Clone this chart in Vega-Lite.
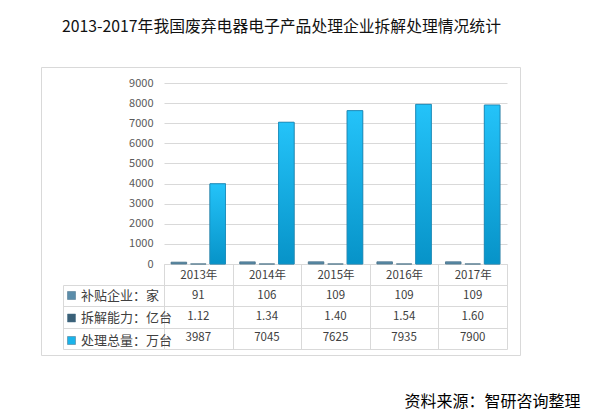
{
  "$schema": "https://vega.github.io/schema/vega-lite/v6.json",
  "width": 479,
  "height": 288,
  "autosize": {"type": "none"},
  "padding": {"left": 41, "top": 67, "right": 73, "bottom": 65},
  "background": "white",
  "title": {
    "text": "2013-2017年我国废弃电器电子产品处理企业拆解处理情况统计",
    "anchor": "start",
    "frame": "group",
    "dx": 21,
    "offset": 19,
    "baseline": "alphabetic",
    "fontSize": 15.8,
    "fontWeight": "normal",
    "color": "#111111"
  },
  "config": {
    "font": "Noto Sans CJK SC",
    "view": {"stroke": "#d9d9d9"}
  },
  "data": {
    "values": [
      {"year": "2013年", "series": "补贴企业：家", "value": 91},
      {"year": "2013年", "series": "拆解能力：亿台", "value": 1.12},
      {"year": "2013年", "series": "处理总量：万台", "value": 3987},
      {"year": "2014年", "series": "补贴企业：家", "value": 106},
      {"year": "2014年", "series": "拆解能力：亿台", "value": 1.34},
      {"year": "2014年", "series": "处理总量：万台", "value": 7045},
      {"year": "2015年", "series": "补贴企业：家", "value": 109},
      {"year": "2015年", "series": "拆解能力：亿台", "value": 1.40},
      {"year": "2015年", "series": "处理总量：万台", "value": 7625},
      {"year": "2016年", "series": "补贴企业：家", "value": 109},
      {"year": "2016年", "series": "拆解能力：亿台", "value": 1.54},
      {"year": "2016年", "series": "处理总量：万台", "value": 7935},
      {"year": "2017年", "series": "补贴企业：家", "value": 109},
      {"year": "2017年", "series": "拆解能力：亿台", "value": 1.60},
      {"year": "2017年", "series": "处理总量：万台", "value": 7900}
    ]
  },
  "layer": [
    {
      "mark": {"type": "bar", "stroke": "#456f87", "strokeWidth": 0.8},
      "encoding": {
        "x": {
          "field": "year",
          "type": "nominal",
          "scale": {
            "type": "band",
            "domain": ["2013年", "2014年", "2015年", "2016年", "2017年"],
            "range": [123, 466],
            "paddingInner": 0,
            "paddingOuter": 0
          },
          "axis": {
            "orient": "bottom",
            "offset": -91,
            "domainColor": "#d9d9d9",
            "tickBand": "extent",
            "tickSize": 85,
            "tickColor": "#d9d9d9",
            "labelPadding": -80,
            "labelAngle": 0,
            "labelFontSize": 11.5,
            "labelColor": "#404040",
            "grid": false,
            "title": "资料来源：智研咨询整理",
            "titleX": 539,
            "titleY": 142,
            "titleAlign": "right",
            "titleBaseline": "alphabetic",
            "titleFontSize": 16,
            "titleFontWeight": "normal",
            "titleColor": "#000000"
          }
        },
        "xOffset": {
          "field": "series",
          "type": "nominal",
          "scale": {
            "domain": ["补贴企业：家", "拆解能力：亿台", "处理总量：万台"],
            "paddingInner": 0.2,
            "paddingOuter": 0.365
          }
        },
        "y": {
          "field": "value",
          "type": "quantitative",
          "scale": {"domain": [0, 9000], "range": [197, 16], "nice": false, "zero": true},
          "axis": {
            "orient": "left",
            "offset": -123,
            "values": [0, 1000, 2000, 3000, 4000, 5000, 6000, 7000, 8000, 9000],
            "format": "d",
            "domain": false,
            "ticks": false,
            "labelPadding": 11,
            "labelFontSize": 11,
            "labelColor": "#595959",
            "grid": true,
            "gridColor": "#d9d9d9",
            "title": null
          }
        },
        "color": {
          "field": "series",
          "type": "nominal",
          "sort": null,
          "scale": {
            "domain": ["补贴企业：家", "拆解能力：亿台", "处理总量：万台"],
            "range": ["#5b8daa", "#3a6078", "#1ab3ea"]
          },
          "legend": {
            "orient": "none",
            "legendX": 24,
            "legendY": 222,
            "direction": "vertical",
            "title": null,
            "padding": 0,
            "symbolType": "square",
            "symbolSize": 64,
            "symbolStrokeWidth": 0.5,
            "labelFontSize": 13,
            "labelColor": "#404040",
            "labelOffset": 3,
            "rowPadding": 8.5
          }
        }
      }
    },
    {
      "transform": [{"filter": "datum.series === '处理总量：万台'"}],
      "mark": {
        "type": "bar",
        "stroke": "#1b8fbf",
        "strokeWidth": 0.8,
        "color": {
          "gradient": "linear",
          "x1": 0, "y1": 0, "x2": 0, "y2": 1,
          "stops": [
            {"offset": 0, "color": "#24c3f9"},
            {"offset": 1, "color": "#0793c8"}
          ]
        }
      },
      "encoding": {
        "x": {"field": "year", "type": "nominal"},
        "xOffset": {"field": "series", "type": "nominal"},
        "y": {
          "field": "value",
          "type": "quantitative",
          "scale": {"domain": [0, 9000], "range": [197, 16], "nice": false, "zero": true},
          "axis": null
        }
      }
    },
    {
      "transform": [{"filter": "datum.series !== '拆解能力：亿台'"}],
      "mark": {"type": "text", "fontSize": 11.5, "color": "#404040", "baseline": "middle"},
      "encoding": {
        "x": {"field": "year", "type": "nominal", "scale": {"type": "band"}},
        "y": {
          "field": "series",
          "type": "nominal",
          "scale": {
            "type": "band",
            "domain": ["补贴企业：家", "拆解能力：亿台", "处理总量：万台"],
            "range": [218, 282],
            "paddingInner": 0,
            "paddingOuter": 0
          },
          "axis": {
            "orient": "left",
            "offset": -22,
            "domain": true,
            "domainColor": "#d9d9d9",
            "ticks": true,
            "tickBand": "extent",
            "tickSize": -101,
            "tickColor": "#d9d9d9",
            "grid": true,
            "gridColor": "#d9d9d9",
            "labels": false,
            "title": null
          }
        },
        "text": {"field": "value", "type": "quantitative", "format": "d"}
      }
    },
    {
      "transform": [{"filter": "datum.series === '拆解能力：亿台'"}],
      "mark": {"type": "text", "fontSize": 11.5, "color": "#404040", "baseline": "middle"},
      "encoding": {
        "x": {"field": "year", "type": "nominal", "scale": {"type": "band"}},
        "y": {
          "field": "series",
          "type": "nominal",
          "scale": {
            "type": "band",
            "domain": ["补贴企业：家", "拆解能力：亿台", "处理总量：万台"],
            "range": [218, 282],
            "paddingInner": 0,
            "paddingOuter": 0
          },
          "axis": null
        },
        "text": {"field": "value", "type": "quantitative", "format": ".2f"}
      }
    }
  ],
  "resolve": {"scale": {"y": "independent"}}
}
